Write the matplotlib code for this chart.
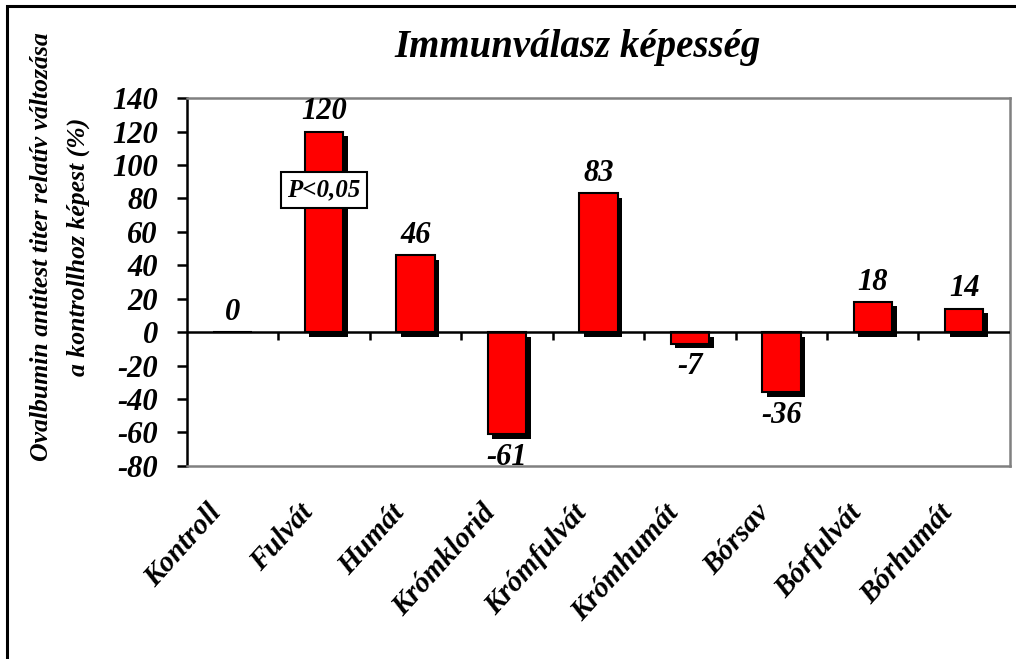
import numpy as np
import matplotlib
matplotlib.use("Agg")
import matplotlib.pyplot as plt
import matplotlib.transforms as mtransforms
from matplotlib.patches import Rectangle

plt.rcParams["font.family"] = ["Liberation Serif", "DejaVu Serif"]
plt.rcParams["font.weight"] = "bold"
plt.rcParams["font.style"] = "italic"

categories = ["Kontroll", "Fulvát", "Humát", "Krómklorid", "Krómfulvát",
              "Krómhumát", "Bórsav", "Bórfulvát", "Bórhumát"]
values = [0, 120, 46, -61, 83, -7, -36, 18, 14]
yticks = [-80, -60, -40, -20, 0, 20, 40, 60, 80, 100, 120, 140]

title = "Immunválasz képesség"
ylabel = "Ovalbumin antitest titer relatív változása\na kontrollhoz képest (%)"
note = "P<0,05"

fig = plt.figure(figsize=(10.16, 6.59), dpi=100)
ax = fig.add_axes([0.184, 0.293, 0.810, 0.558])

x = np.arange(len(categories))
width = 0.42
# shadow offsets (~4 px right, ~4 px down)
dx = 0.05
dy = 2.6
vals = np.array(values, dtype=float)
ax.bar(x + dx, vals, width=width, bottom=-dy, color="black",
       edgecolor="black", linewidth=0, zorder=2)
ax.bar(x, vals, width=width, color="#ff0000", edgecolor="black",
       linewidth=1.5, zorder=3)

ax.set_xlim(-0.5, len(categories) - 0.5)
ax.set_ylim(-80, 140)

# zero line with category-boundary ticks
ax.axhline(0, color="black", linewidth=1.8, zorder=4)
bounds = np.arange(0.5, len(categories) - 0.5, 1.0)
ax.vlines(bounds, -4.8, 0, color="black", linewidth=1.8, zorder=4)

for xi, v in zip(x, values):
    if v >= 0:
        ax.annotate(f"{v}", (xi, v), xytext=(0, 4), textcoords="offset points",
                    ha="center", va="bottom", fontsize=22, zorder=5)
    else:
        ax.annotate(f"{v}", (xi, v - dy), xytext=(0, -3), textcoords="offset points",
                    ha="center", va="top", fontsize=22, zorder=5)

ax.set_yticks(yticks)
ax.set_yticklabels([str(t) for t in yticks], fontsize=22)
ax.tick_params(axis="y", direction="out", length=7, width=1.8, pad=14)
ax.set_xticks(x)
ax.set_xticklabels(categories, rotation=48, ha="right", rotation_mode="anchor",
                   fontsize=21)
ax.tick_params(axis="x", length=0, pad=24)
shift = mtransforms.ScaledTranslation(-26 / 100, 0, fig.dpi_scale_trans)
for lab in ax.get_xticklabels():
    lab.set_transform(lab.get_transform() + shift)

for s in ["top", "right", "bottom"]:
    ax.spines[s].set_color("#808080")
    ax.spines[s].set_linewidth(1.8)
ax.spines["left"].set_color("black")
ax.spines["left"].set_linewidth(1.8)

ax.text(1, 85, note, ha="center", va="center", fontsize=18, zorder=6,
        bbox=dict(boxstyle="square,pad=0.25", facecolor="white",
                  edgecolor="black", linewidth=1.5))

fig.text(578 / 1016, 1 - 47 / 659, title, ha="center", va="center", fontsize=28)
fig.text(60 / 1016, 1 - 247 / 659, ylabel, ha="center", va="center",
         rotation=90, fontsize=18.5, linespacing=1.7)

fig.patches.append(Rectangle((7 / 1016, -0.1), 1.2, 1.1 - 6 / 659,
                             transform=fig.transFigure, fill=False,
                             edgecolor="black", linewidth=2.2))

fig.savefig("out.png", dpi=100)
